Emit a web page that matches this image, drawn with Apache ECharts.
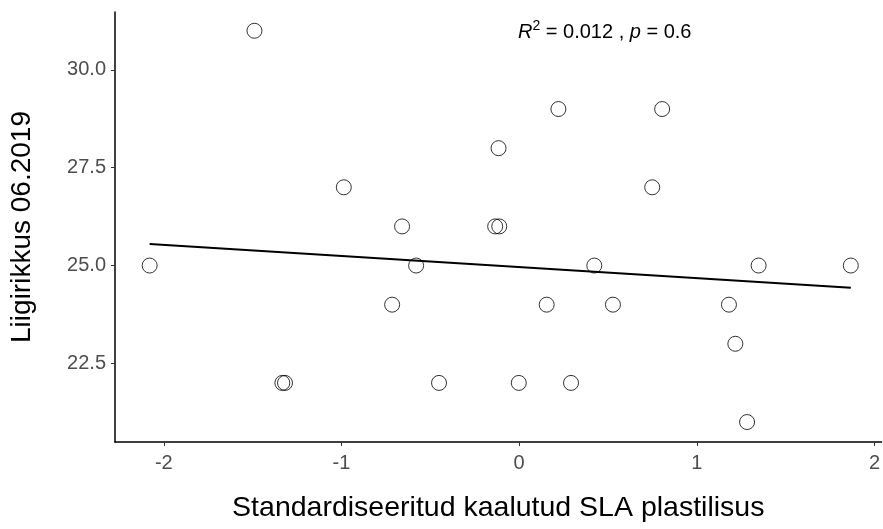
<!DOCTYPE html>
<html>
<head>
<meta charset="utf-8">
<script src="https://cdn.jsdelivr.net/npm/echarts@6/dist/echarts.min.js"></script>
<style>
  html, body { margin: 0; padding: 0; background: #fff; }
  #chart { width: 883px; height: 529px; }
</style>
</head>
<body>
<div id="chart"></div>
<script>
// standardised weighted SLA plasticity vs. species richness
const slaPlasticity = [
  -1.49, -2.08, -0.987, -0.659, -0.58, -0.715, -0.116, -0.135, -0.112,
  -1.333, -1.318, -0.451, -0.002, 0.221, 0.805, 0.749, 0.423, 1.348,
  1.867, 0.155, 0.528, 1.181, 1.217, 0.292, 1.283,
];
const richness = [
  31, 25, 27, 26, 25, 24, 28, 26, 26,
  22, 22, 22, 22, 29, 29, 27, 25, 25,
  25, 24, 24, 24, 23, 22, 21,
];
const xTicks = [-2, -1, 0, 1, 2];
const yTicks = [22.5, 25, 27.5, 30];

// least squares fit for the trend line
function fitLine(xs, ys) {
  const n = xs.length;
  const mx = xs.reduce((a, b) => a + b, 0) / n;
  const my = ys.reduce((a, b) => a + b, 0) / n;
  let sxy = 0;
  let sxx = 0;
  for (let i = 0; i < n; i += 1) {
    sxy += (xs[i] - mx) * (ys[i] - my);
    sxx += (xs[i] - mx) * (xs[i] - mx);
  }
  const slope = sxy / sxx;
  return { slope, intercept: my - slope * mx };
}

const fit = fitLine(slaPlasticity, richness);
const xLo = Math.min(...slaPlasticity);
const xHi = Math.max(...slaPlasticity);
const trend = [xLo, xHi].map((x) => [x, fit.intercept + fit.slope * x]);
const points = slaPlasticity.map((x, i) => [x, richness[i]]);

const chart = echarts.init(document.getElementById('chart'));
const option = {
  animation: false,
  backgroundColor: '#fff',
  grid: { left: 115, right: 0, top: 12, bottom: 87 },
  xAxis: {
    type: 'value',
    min: -2.275,
    max: 2.04,
    name: 'Standardiseeritud kaalutud SLA plastilisus',
    nameLocation: 'middle',
    nameGap: 52,
    nameTextStyle: { fontFamily: 'Liberation Sans', fontSize: 28.5, color: '#000' },
    axisLine: { show: true, onZero: false, lineStyle: { color: '#000', width: 1.5 } },
    axisTick: { show: true, length: 4, customValues: xTicks, lineStyle: { color: '#333' } },
    axisLabel: {
      customValues: xTicks,
      margin: 11,
      fontFamily: 'Liberation Sans',
      fontSize: 20,
      color: '#4d4d4d',
    },
    splitLine: { show: false },
  },
  yAxis: {
    type: 'value',
    min: 20.49,
    max: 31.48,
    name: 'Liigirikkus 06.2019',
    nameLocation: 'middle',
    nameRotate: 90,
    nameGap: 79,
    nameTextStyle: { fontFamily: 'Liberation Sans', fontSize: 28, color: '#000' },
    axisLine: { show: true, onZero: false, lineStyle: { color: '#000', width: 1.5 } },
    axisTick: { show: true, length: 4, customValues: yTicks, lineStyle: { color: '#333' } },
    axisLabel: {
      customValues: yTicks,
      margin: 9,
      fontFamily: 'Liberation Sans',
      fontSize: 20,
      color: '#4d4d4d',
      formatter: (v) => v.toFixed(1),
    },
    splitLine: { show: false },
  },
  graphic: [{
    type: 'text',
    left: 518,
    top: 19,
    style: {
      text: '{i|R}{sup|2}{n| = 0.012 , }{i|p}{n| = 0.6}',
      rich: {
        i: { fontFamily: 'Liberation Sans', fontStyle: 'italic', fontSize: 20, fill: '#000', verticalAlign: 'bottom' },
        n: { fontFamily: 'Liberation Sans', fontSize: 20, fill: '#000', verticalAlign: 'bottom' },
        sup: { fontFamily: 'Liberation Sans', fontSize: 14, fill: '#000', verticalAlign: 'top', padding: [0, 0, 9, 0] },
      },
    },
  }],
  series: [{
    type: 'line',
    data: trend,
    showSymbol: false,
    lineStyle: { color: '#000', width: 2 },
    z: 1,
  }, {
    type: 'scatter',
    data: points,
    symbol: 'circle',
    symbolSize: 15,
    itemStyle: { color: 'rgba(0,0,0,0)', borderColor: '#000', borderWidth: 1 },
    z: 2,
  }],
};
chart.setOption(option);
</script>
</body>
</html>
